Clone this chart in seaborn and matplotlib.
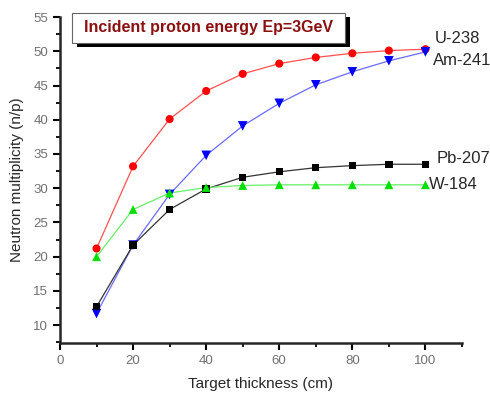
import matplotlib
matplotlib.use("Agg")
import matplotlib.pyplot as plt
import seaborn as sns
import pandas as pd
from matplotlib.ticker import MultipleLocator

# values
thickness = [10, 20, 30, 40, 50, 60, 70, 80, 90, 100]
u238 = [21.2, 33.2, 40.1, 44.2, 46.7, 48.2, 49.1, 49.7, 50.1, 50.3]
am241 = [11.7, 21.7, 29.1, 34.8, 39.1, 42.4, 45.1, 47.0, 48.6, 49.9]
pb207 = [12.7, 21.7, 26.9, 29.9, 31.6, 32.4, 33.0, 33.3, 33.5, 33.5]
w184 = [20.0, 26.9, 29.3, 30.1, 30.4, 30.5, 30.5, 30.5, 30.5, 30.5]
names = ["U-238", "Am-241", "Pb-207", "W-184"]

rows = []
for name, vals in zip(names, [u238, am241, pb207, w184]):
    for t, v in zip(thickness, vals):
        rows.append({"t": t, "n": v, "target": name})
df = pd.DataFrame(rows)

line_cols = {"U-238": "#ff5050", "Am-241": "#6a6aff", "Pb-207": "#333333", "W-184": "#66f066"}
mark_cols = {"U-238": "#ff0000", "Am-241": "#0000ff", "Pb-207": "#000000", "W-184": "#00e000"}
marks = {"U-238": "o", "Am-241": "v", "Pb-207": "s", "W-184": "^"}
msize = {"U-238": 34, "Am-241": 48, "Pb-207": 28, "W-184": 40}

sns.set_style("ticks")
plt.rcParams["font.family"] = ["Liberation Sans", "DejaVu Sans"]

fig = plt.figure(figsize=(4.9, 3.93), dpi=100)
ax = fig.add_axes([0.1224, 0.1272, 0.8204, 0.8295])

sns.lineplot(data=df, x="t", y="n", hue="target", palette=line_cols,
             linewidth=0.9, legend=False, ax=ax)
for name in names:
    sub = df[df.target == name]
    sns.scatterplot(data=sub, x="t", y="n", color=mark_cols[name], marker=marks[name],
                    s=msize[name], edgecolor="none", legend=False, ax=ax, zorder=3)

ax.set_xlim(0, 110)
ax.set_ylim(7.4, 55)
ax.xaxis.set_major_locator(MultipleLocator(20))
ax.xaxis.set_minor_locator(MultipleLocator(10))
ax.yaxis.set_major_locator(MultipleLocator(5))
ax.yaxis.set_minor_locator(MultipleLocator(2.5))
ax.set_xticks([0, 20, 40, 60, 80, 100])
ax.tick_params(which="major", direction="out", length=5, width=1.5, labelsize=9.5,
               labelcolor="#707070", color="black")
ax.tick_params(which="minor", direction="out", length=3, width=1.3, color="black")
for side in ["top", "right"]:
    ax.spines[side].set_visible(False)
for side in ["left", "bottom"]:
    ax.spines[side].set_linewidth(1.8)

ax.set_xlabel("Target thickness (cm)", fontsize=11, labelpad=7)
ax.set_ylabel("Neutron multiplicity (n/p)", fontsize=11, labelpad=7)

# curve labels
ax.text(102.5, 51.8, "U-238", fontsize=12, va="center")
ax.text(102.0, 48.6, "Am-241", fontsize=12, va="center")
ax.text(103.0, 34.3, "Pb-207", fontsize=12, va="center")
ax.text(101.0, 30.5, "W-184", fontsize=12, va="center")

# title box with drop shadow
fig.add_artist(plt.Rectangle((0.157, 0.880), 0.557, 0.076, transform=fig.transFigure,
                             facecolor="black", edgecolor="none", zorder=5))
fig.add_artist(plt.Rectangle((0.147, 0.891), 0.557, 0.076, transform=fig.transFigure,
                             facecolor="white", edgecolor="#666666", linewidth=0.8,
                             zorder=6))
fig.text(0.4255, 0.929, "Incident proton energy Ep=3GeV", fontsize=11.5,
         fontweight="bold", color="#8b1010", va="center", ha="center", zorder=7)

fig.savefig("out.png", dpi=100)
